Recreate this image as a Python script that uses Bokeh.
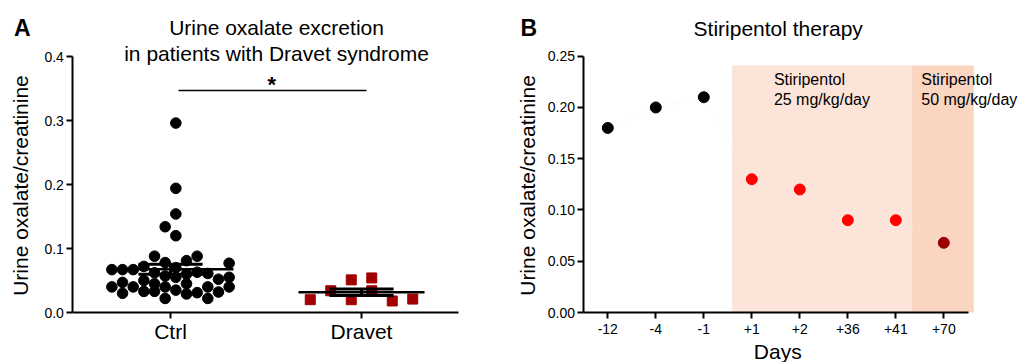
import numpy as np
from bokeh.plotting import figure
from bokeh.layouts import row
from bokeh.models import Range1d, FixedTicker, Label, BoxAnnotation, LinearAxis
from bokeh.embed import file_html
from bokeh.resources import INLINE

FONT = "Liberation Sans"

# ---------------- Panel A data ----------------
groups = ["Ctrl", "Dravet"]
ctrl_values = [0.067, 0.040,
               0.067, 0.047, 0.030,
               0.067, 0.040,
               0.072, 0.050, 0.033,
               0.088, 0.062, 0.045, 0.033,
               0.134, 0.078, 0.057, 0.040, 0.022,
               0.296, 0.194, 0.154, 0.120, 0.070, 0.055, 0.035,
               0.081, 0.060, 0.045, 0.029,
               0.088, 0.063, 0.031,
               0.061, 0.040, 0.022,
               0.052, 0.032,
               0.077, 0.055, 0.040]
ctrl_swarm_col = [-5.5, -5.5,
                  -4.5, -4.5, -4.5,
                  -3.5, -3.5,
                  -2.5, -2.5, -2.5,
                  -1.5, -1.5, -1.5, -1.5,
                  -0.5, -0.5, -0.5, -0.5, -0.5,
                  0.5, 0.5, 0.5, 0.5, 0.5, 0.5, 0.5,
                  1.5, 1.5, 1.5, 1.5,
                  2.5, 2.5, 2.5,
                  3.5, 3.5, 3.5,
                  4.5, 4.5,
                  5.5, 5.5, 5.5]
dravet_values = [0.020, 0.034, 0.051, 0.020, 0.054, 0.034, 0.018, 0.021]
dravet_swarm_col = [-2.5, -1.5, -0.5, -0.5, 0.5, 0.5, 1.5, 2.5]
a_yticks = [0.0, 0.1, 0.2, 0.3, 0.4]
a_ytick_labels = ["0.0", "0.1", "0.2", "0.3", "0.4"]
a_title = ["Urine oxalate excretion", "in patients with Dravet syndrome"]
a_ylabel = "Urine oxalate/creatinine"
sig_text = "*"

# ---------------- Panel B data ----------------
days = ["-12", "-4", "-1", "+1", "+2", "+36", "+41", "+70"]
b_values = [0.18, 0.20, 0.21, 0.13, 0.12, 0.09, 0.09, 0.068]
b_phase = ["pre", "pre", "pre", "25", "25", "25", "25", "50"]
b_yticks = [0.0, 0.05, 0.10, 0.15, 0.20, 0.25]
b_ytick_labels = ["0.00", "0.05", "0.10", "0.15", "0.20", "0.25"]
b_title = "Stiripentol therapy"
b_xlabel = "Days"
dose_text = [["Stiripentol", "25 mg/kg/day"], ["Stiripentol", "50 mg/kg/day"]]

phase_color = {"pre": "black", "25": "#FF0000", "50": "#9B0000"}


def make_axis(loc, bounds, ticks, labels, size, standoff):
    ax = LinearAxis(fixed_location=loc, bounds=bounds, ticker=FixedTicker(ticks=ticks),
                    major_label_overrides={t: l for t, l in zip(ticks, labels)})
    ax.axis_line_width = 2
    ax.axis_line_color = "black"
    ax.major_tick_line_width = 2
    ax.major_tick_line_color = "black"
    ax.major_tick_out = 6
    ax.major_tick_in = 0
    ax.minor_tick_line_color = None
    ax.major_label_text_font = FONT
    ax.major_label_text_font_size = size
    ax.major_label_text_color = "black"
    ax.major_label_standoff = standoff
    return ax


def base_fig(width, xr, yr):
    p = figure(width=width, height=362, x_range=Range1d(*xr), y_range=Range1d(*yr),
               output_backend="svg", toolbar_location=None, title=None,
               x_axis_location=None, y_axis_location=None,
               min_border_left=0, min_border_right=0, min_border_top=0, min_border_bottom=0)
    p.grid.visible = False
    p.outline_line_color = None
    p.background_fill_color = "white"
    p.border_fill_color = "white"
    return p


def lab(p, x, y, text, size, align="center", bold=False, angle=0.0, baseline="alphabetic"):
    p.add_layout(Label(x=x, y=y, text=text, text_font=FONT, text_font_size=size,
                       text_align=align, text_baseline=baseline, angle=angle,
                       text_font_style="bold" if bold else "normal", text_color="black"))


# ================= Panel A =================
pA = base_fig(500, (0.1099, 2.7277), (-0.078125, 0.4875))
pA.add_layout(make_axis(0.489, (0, 0.4), a_yticks, a_ytick_labels, "14px", 3), "left")
pA.add_layout(make_axis(0.0, (0.489, 2.508), [1, 2], groups, "21px", 1), "below")

ctrl_step = 0.0558
drav_step = 0.1073
cx = [1 + c * ctrl_step for c in ctrl_swarm_col]
dx = [2 + c * drav_step for c in dravet_swarm_col]
pA.scatter(cx, ctrl_values, marker="circle", size=10.6, color="black")
pA.scatter(dx, dravet_values, marker="square", size=10, color="#A00000")

for center, vals in ((1, ctrl_values), (2, dravet_values)):
    v = np.array(vals)
    m = v.mean()
    sem = v.std(ddof=1) / np.sqrt(len(v))
    pA.segment(x0=[center - 0.33], y0=[m], x1=[center + 0.33], y1=[m], line_width=2.5, color="black")
    pA.segment(x0=[center - 0.168] * 2, y0=[m - sem, m + sem], x1=[center + 0.168] * 2,
               y1=[m - sem, m + sem], line_width=3, color="black")
    pA.segment(x0=[center], y0=[m - sem], x1=[center], y1=[m + sem], line_width=3, color="black")

pA.segment(x0=[1.042], y0=[0.347], x1=[2.026], y1=[0.347], line_width=1.5, color="black")
lab(pA, 1.53, 0.3555, sig_text, "22px", bold=True)

lab(pA, 1.555, 0.4446, a_title[0], "21px")
lab(pA, 1.555, 0.4040, a_title[1], "21px")
lab(pA, 0.18, 0.445, "A", "23px", align="left", bold=True)
lab(pA, 0.216, 0.1984, a_ylabel, "21px", angle=np.pi / 2)

# ================= Panel B =================
pB = base_fig(518, (-2.2354, 8.5563), (-0.04877, 0.30433))
pB.add_layout(make_axis(-0.496, (0, 0.25), b_yticks, b_ytick_labels, "14px", 3), "left")
idx = list(range(len(days)))
pB.add_layout(make_axis(0.0, (-0.496, 7.52), idx, days, "14px", 5), "below")

pB.add_layout(BoxAnnotation(left=2.59, right=6.34, bottom=0, top=0.241, fill_color="#FCE5D8",
                            fill_alpha=1, line_color=None, level="underlay"))
pB.add_layout(BoxAnnotation(left=6.34, right=7.625, bottom=0, top=0.241, fill_color="#FAD5C0",
                            fill_alpha=1, line_color=None, level="underlay"))

pB.line(idx, b_values, line_dash="1 4", line_width=1.5, color="#f0f0f0")
pB.scatter(idx, b_values, marker="circle", size=11, color=[phase_color[ph] for ph in b_phase])

for (l1, l2), xpos in zip(dose_text, (3.46, 6.53)):
    lab(pB, xpos, 0.2270, l1, "16px", align="left")
    lab(pB, xpos, 0.2081, l2, "16px", align="left")

lab(pB, 3.55, 0.2775, b_title, "21px")
lab(pB, -1.82, 0.2775, "B", "23px", align="left", bold=True)
lab(pB, -1.677, 0.1239, a_ylabel, "21px", angle=np.pi / 2)
lab(pB, 3.54, -0.0385, b_xlabel, "21px")

layout = row(pA, pB)
open("out.html", "w").write(file_html(layout, INLINE))
